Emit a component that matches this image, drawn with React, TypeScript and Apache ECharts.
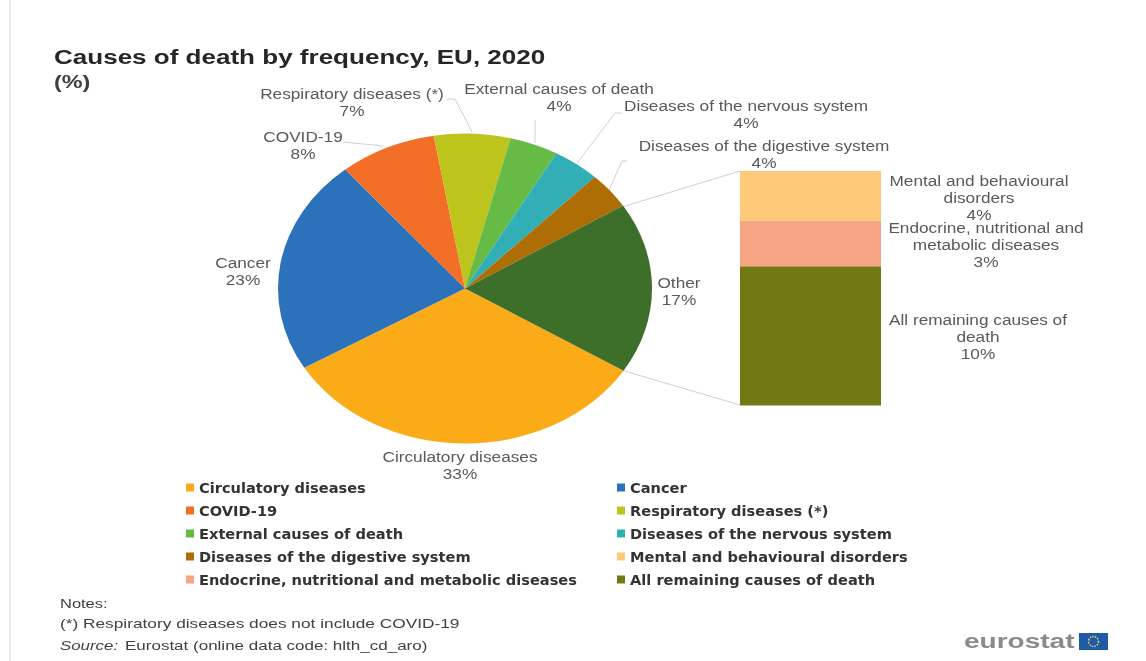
import React, { useEffect, useRef } from "react";
import * as echarts from "echarts";

const pieNames = ["Circulatory diseases", "Cancer", "COVID-19", "Respiratory diseases (*)", "External causes of death", "Diseases of the nervous system", "Diseases of the digestive system", "Other"];
const pieValues = [32.6, 22.5, 8.4, 6.6, 4.2, 4.1, 3.8, 17.9];
const pieShares = [33, 23, 8, 7, 4, 4, 4, 17];
const pieColors = ["#FBAB18", "#2B72BA", "#F36E27", "#BDC41C", "#66BA46", "#31AEB6", "#AE6E04", "#3E6F2A"];

const barNames = ["All remaining causes of death", "Endocrine, nutritional and metabolic diseases", "Mental and behavioural disorders"];
const barValues = [10.1, 3.3, 3.6];
const barShares = [10, 3, 4];
const barColors = ["#727813", "#F7A484", "#FDC878"];
const barLabelLines = [["All remaining causes of", "death"], ["Endocrine, nutritional and", "metabolic diseases"], ["Mental and behavioural", "disorders"]];

const legendLeft = ["Circulatory diseases", "COVID-19", "External causes of death", "Diseases of the digestive system", "Endocrine, nutritional and metabolic diseases"];
const legendRight = ["Cancer", "Respiratory diseases (*)", "Diseases of the nervous system", "Mental and behavioural disorders", "All remaining causes of death"];

const CX = 465, CY = 288.5, RX = 187, RY = 155;
const START = (32 * Math.PI) / 180;
const SX = 1.23;
const LABEL_FONT = "14px 'Liberation Sans', Arial, sans-serif";

const pieLabelPos = [[460, 466], [243, 272], [303, 146], [352, 103], [559, 98], [746, 115], [764, 155], [679, 292]];
const barLabelPos = [[978, 337], [986, 245], [979, 198]];

const leaders: number[][][] = [
  [[447, 99], [455, 99], [472, 132]],
  [[343, 142], [383, 146]],
  [[535, 120], [535, 143]],
  [[622, 113], [615, 113], [578, 162]],
  [[627, 161], [622, 161], [609, 190]],
  [[622, 207], [740, 171]],
  [[621, 370], [740, 405]],
];

function stext(x: number, y: number, text: string, font: string, fill: string, align = "center", scaleX = SX) {
  return { type: "text", x, y, scaleX, silent: true, style: { x: 0, y: 0, text, font, fill, align, verticalAlign: "middle", lineHeight: 17 } };
}

export default function App() {
  const ref = useRef<HTMLDivElement>(null);
  useEffect(() => {
    const chart = echarts.init(ref.current!, undefined, { renderer: "svg" });
    const total = pieValues.reduce((a, b) => a + b, 0);
    const pieSeries = pieNames.map((name, i) => {
      const before = pieValues.slice(0, i).reduce((a, b) => a + b, 0);
      return {
        type: "custom",
        name,
        coordinateSystem: "none",
        silent: true,
        itemStyle: { color: pieColors[i] },
        data: [[pieValues[i]]],
        renderItem: (_p: any, api: any) => {
          const a0 = START + (before / total) * Math.PI * 2;
          const a1 = a0 + (api.value(0) / total) * Math.PI * 2;
          return {
            type: "sector",
            x: CX,
            y: CY,
            scaleY: RY / RX,
            shape: { cx: 0, cy: 0, r0: 0, r: RX, startAngle: a0, endAngle: a1, clockwise: true },
            style: { fill: api.visual("color") },
          };
        },
      };
    });
    const barSeries = barNames.map((name, i) => ({
      type: "bar",
      name,
      stack: "other",
      barWidth: "100%",
      silent: true,
      itemStyle: { color: barColors[i] },
      data: [barValues[i]],
    }));
    const labels = [
      ...pieNames.map((n, i) => stext(pieLabelPos[i][0], pieLabelPos[i][1], `${n}\n${pieShares[i]}%`, LABEL_FONT, "#595959")),
      ...barNames.map((_, i) => stext(barLabelPos[i][0], barLabelPos[i][1], `${barLabelLines[i].join("\n")}\n${barShares[i]}%`, LABEL_FONT, "#595959")),
    ];
    const lines = leaders.map((pts) => ({
      type: "polyline",
      silent: true,
      shape: { points: pts },
      style: { stroke: "#cfcfcf", lineWidth: 1, fill: "none" },
    }));
    const legendBase = {
      orient: "vertical",
      top: 475,
      icon: "rect",
      itemWidth: 8,
      itemHeight: 8,
      itemGap: 8,
      selectedMode: false,
      textStyle: { fontFamily: "'DejaVu Sans', sans-serif", fontWeight: "bold", fontSize: 14.6, color: "#333333", lineHeight: 15 },
    };
    const noteFont = "13.5px 'Liberation Sans', Arial, sans-serif";
    chart.setOption({
      animation: false,
      backgroundColor: "#ffffff",
      grid: { left: 740, top: 171, width: 141, height: 234.5 },
      xAxis: { type: "category", data: ["Other"], show: false },
      yAxis: { type: "value", min: 0, max: 17, show: false },
      legend: [
        { ...legendBase, left: 181, data: legendLeft },
        { ...legendBase, left: 612, data: legendRight },
      ],
      series: [...pieSeries, ...barSeries],
      graphic: [
        { type: "line", silent: true, shape: { x1: 10, y1: 0, x2: 10, y2: 661 }, style: { stroke: "#d9d9d9", lineWidth: 1 } },
        ...lines,
        stext(54, 57, "Causes of death by frequency, EU, 2020", "bold 21px 'Liberation Sans', Arial, sans-serif", "#262626", "left", 1.24),
        stext(54, 82, "(%)", "bold 18px 'Liberation Sans', Arial, sans-serif", "#404040", "left", 1.3),
        ...labels,
        stext(60, 603, "Notes:", noteFont, "#404040", "left", 1.22),
        stext(60, 623, "(*) Respiratory diseases does not include COVID-19", noteFont, "#404040", "left", 1.28),
        stext(60, 645, "Source:", "italic 13.5px 'Liberation Sans', Arial, sans-serif", "#404040", "left", 1.25),
        stext(125, 645, "Eurostat (online data code: hlth_cd_aro)", noteFont, "#404040", "left", 1.26),
        stext(964, 641, "eurostat", "bold 20px 'Liberation Sans', Arial, sans-serif", "#8a8a8a", "left", 1.4),
        { type: "rect", silent: true, shape: { x: 1079, y: 633, width: 29, height: 17 }, style: { fill: "#1f5aa6" } },
        { type: "circle", silent: true, shape: { cx: 1093.5, cy: 641.5, r: 5 }, style: { fill: "none", stroke: "#e6d36a", lineWidth: 1.5, lineDash: [1.5, 1.2] } },
      ],
    });
    return () => chart.dispose();
  }, []);
  return (
    <div
      ref={ref}
      style={{ position: "absolute", left: 0, top: 0, width: 1146, height: 661, filter: "blur(0.5px)" }}
    />
  );
}
